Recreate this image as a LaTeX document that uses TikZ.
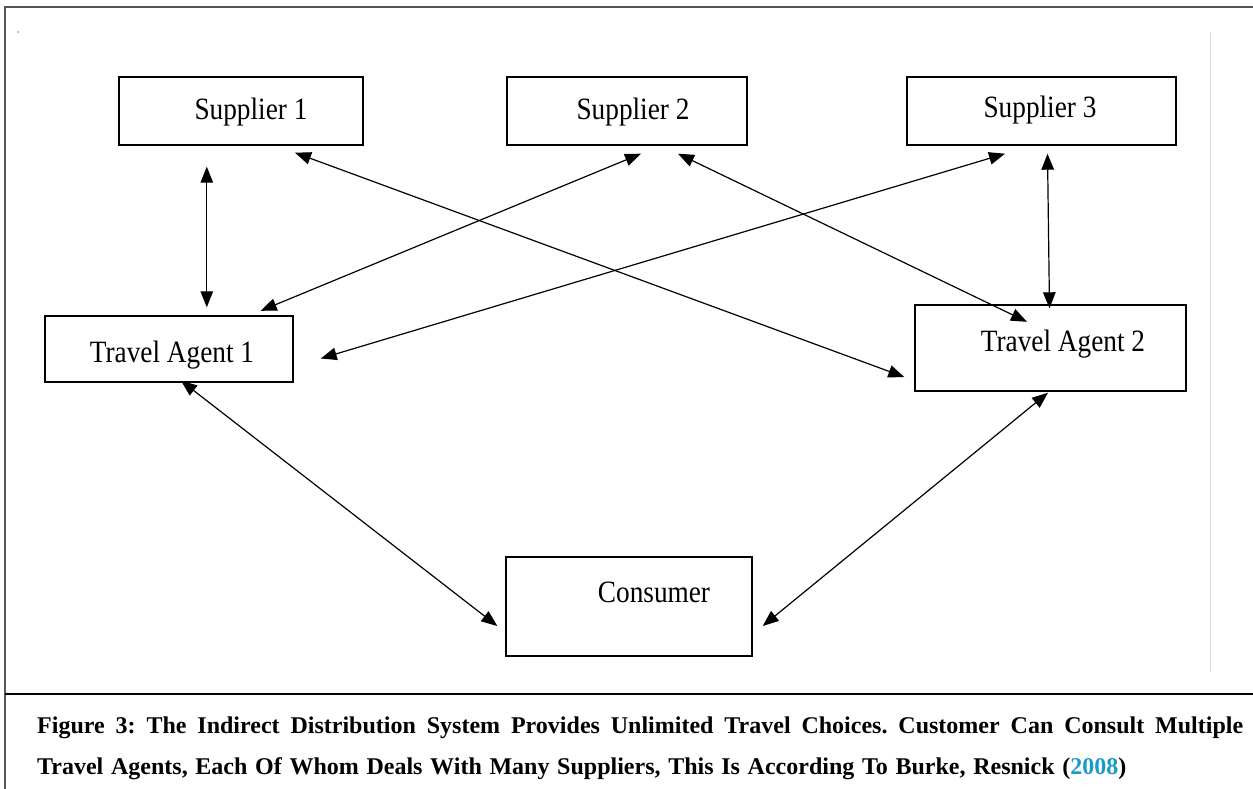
\documentclass[tikz,border=0pt]{standalone}
\usepackage{fontspec}
\setmainfont{Liberation Serif}
\newfontfamily\boxfont[FakeStretch=0.88]{Liberation Serif}
\usetikzlibrary{arrows.meta,calc}
\definecolor{citeblue}{HTML}{179CC8}
\definecolor{framegray}{HTML}{555555}

\begin{document}
\frenchspacing
\begin{tikzpicture}[x=1pt,y=-1pt,
  box/.style={draw=black, line width=1.4pt, inner sep=0pt, fill=white},
  lbl/.style={anchor=base, inner sep=0pt, font=\boxfont\fontsize{31}{31}\selectfont},
  link/.style={{Triangle[length=16pt,width=12.5pt]}-{Triangle[length=16pt,width=12.5pt]}, line width=1.2pt},
  captext/.style={anchor=base west, inner sep=0pt, font=\bfseries\fontsize{24}{24}\selectfont}]
\useasboundingbox (0,0) rectangle (1253,789);

% outer frame and caption rule
\draw[framegray, line width=2pt] (5,789) -- (5,7) -- (1253,7);
\draw[black, line width=1.5pt] (5,694) -- (1253,694);
\draw[gray!25, line width=1pt] (1210,32) -- (1210,672);
\fill (18,32) circle (0.6pt);

% boxes
\node[box, minimum width=244pt, minimum height=68pt] (s1) at (241,111) {};
\node[box, minimum width=240pt, minimum height=68pt] (s2) at (627,111) {};
\node[box, minimum width=269pt, minimum height=68pt] (s3) at (1041.5,111) {};
\node[box, minimum width=248pt, minimum height=66pt] (ta1) at (169,349) {};
\node[box, minimum width=271pt, minimum height=86pt] (ta2) at (1050.5,348) {};
\node[box, minimum width=246pt, minimum height=99pt] (cons) at (629,606.5) {};

% labels
\node[lbl] (s1t) at (251,120) {Supplier 1};
\node[lbl] (s2t) at (633,120) {Supplier 2};
\node[lbl] (s3t) at (1040,118) {Supplier 3};
\node[lbl] (ta1t) at (172,362) {Travel Agent 1};
\node[lbl] (ta2t) at (1063,351) {Travel Agent 2};
\node[lbl] (const) at (654,602) {Consumer};

% connectors
\draw[link] ($(s1.south west)+(88.5,21)$) -- ($(ta1.north west)+(162.5,-8)$);
\draw[link] ($(s1.south)+(54,7)$) -- ($(ta2.west)+(-10,29)$);
\draw[link] ($(s2.south)+(14,8)$) -- ($(ta1.north east)+(-33,-4.5)$);
\draw[link] ($(s2.south)+(51,8)$) -- ($(ta2.north)+(-23.5,17.5)$);
\draw[link] ($(s3.south)+(-36.5,8)$) -- ($(ta1.east)+(27,9.5)$);
\draw[link] ($(s3.south)+(6,8)$) -- ($(ta2.north)+(-1,4)$);
\draw[link] ($(ta1.south)+(12,-2)$) -- ($(cons.west)+(-8,19.5)$);
\draw[link] ($(ta2.south)+(-2.5,1)$) -- ($(cons.east)+(10,19.5)$);

% caption
\node[captext] (cap1) at (37,733) {\makebox[1206pt][s]{Figure 3: The Indirect Distribution System Provides Unlimited Travel Choices. Customer Can Consult Multiple}};
\node[captext] (cap2) at (37,774) {\spaceskip=7.7pt Travel Agents, Each Of Whom Deals With Many Suppliers, This Is According To Burke, Resnick (\textcolor{citeblue}{2008})};
\end{tikzpicture}
\end{document}
